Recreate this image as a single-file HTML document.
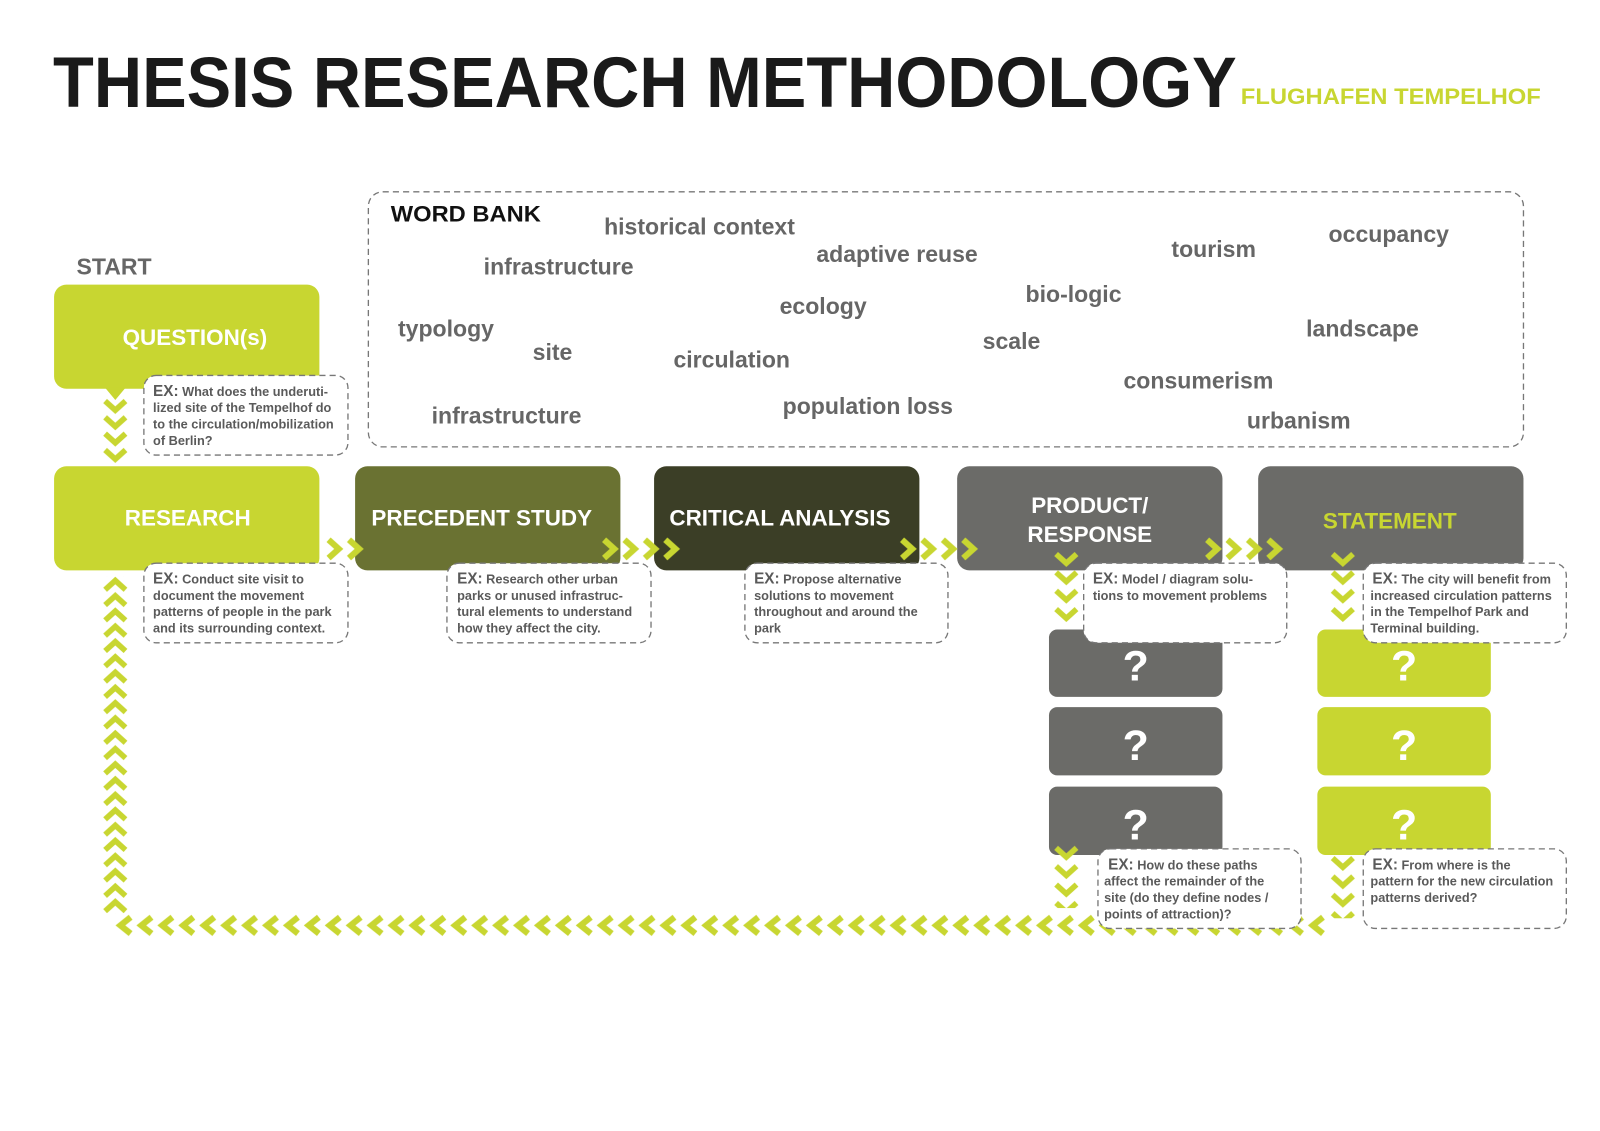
<!DOCTYPE html>
<html><head><meta charset="utf-8"><style>
html,body{margin:0;padding:0;background:#fff;}
svg{display:block;}
text{font-family:"Liberation Sans",Arial,sans-serif;font-weight:bold;}
.w{fill:#666;font-size:22.6px;}
.ex{fill:#5a5a5a;font-size:12.5px;}
.exb{font-size:15px;}
.dash{fill:#fff;stroke:#777;stroke-width:1.3;stroke-dasharray:6 4;}
.q{fill:#fff;font-size:42px;text-anchor:middle;}
.bt{fill:#fff;font-size:22px;}
</style></head><body>
<svg width="1600" height="1131" viewBox="0 0 1568 1108.5" preserveAspectRatio="none" xmlns="http://www.w3.org/2000/svg">
<defs>
<pattern id="cr1" patternUnits="userSpaceOnUse" x="318" y="527" width="20" height="22"><path d="M4,2 L14,11 L4,20" fill="none" stroke="#c8d631" stroke-width="6"/></pattern>
<pattern id="cr2" patternUnits="userSpaceOnUse" x="588" y="527" width="20" height="22"><path d="M4,2 L14,11 L4,20" fill="none" stroke="#c8d631" stroke-width="6"/></pattern>
<pattern id="cr3" patternUnits="userSpaceOnUse" x="880" y="527" width="20" height="22"><path d="M4,2 L14,11 L4,20" fill="none" stroke="#c8d631" stroke-width="6"/></pattern>
<pattern id="cr4" patternUnits="userSpaceOnUse" x="1179" y="527" width="20" height="22"><path d="M4,2 L14,11 L4,20" fill="none" stroke="#c8d631" stroke-width="6"/></pattern>
<pattern id="cl" patternUnits="userSpaceOnUse" x="112" y="896" width="20.5" height="22"><path d="M16,3 L6,11 L16,19" fill="none" stroke="#c8d631" stroke-width="6"/></pattern>
<pattern id="cu" patternUnits="userSpaceOnUse" x="101" y="565" width="24" height="15"><path d="M2,13 L12,4 L22,13" fill="none" stroke="#c8d631" stroke-width="5.5"/></pattern>
<pattern id="cd1" patternUnits="userSpaceOnUse" x="101" y="390" width="24" height="16"><path d="M2,3 L12,12 L22,3" fill="none" stroke="#c8d631" stroke-width="5.5"/></pattern>
<pattern id="cd2" patternUnits="userSpaceOnUse" x="1033" y="540" width="24" height="18"><path d="M2,3 L12,12 L22,3" fill="none" stroke="#c8d631" stroke-width="5.5"/></pattern>
<pattern id="cd3" patternUnits="userSpaceOnUse" x="1304" y="540" width="24" height="18"><path d="M2,3 L12,12 L22,3" fill="none" stroke="#c8d631" stroke-width="5.5"/></pattern>
<pattern id="cd4" patternUnits="userSpaceOnUse" x="1033" y="828" width="24" height="18"><path d="M2,3 L12,12 L22,3" fill="none" stroke="#c8d631" stroke-width="5.5"/></pattern>
<pattern id="cd5" patternUnits="userSpaceOnUse" x="1304" y="838" width="24" height="18"><path d="M2,3 L12,12 L22,3" fill="none" stroke="#c8d631" stroke-width="5.5"/></pattern>
</defs>

<text x="52" y="105" font-size="70" fill="#1a1a1a" textLength="1160" lengthAdjust="spacingAndGlyphs">THESIS RESEARCH METHODOLOGY</text>
<text x="1216" y="102" font-size="22" fill="#c8d631" textLength="294" lengthAdjust="spacingAndGlyphs">FLUGHAFEN TEMPELHOF</text>

<rect x="361" y="188" width="1132" height="250" rx="14" class="dash" fill="none"/>
<text x="383" y="217" font-size="22" fill="#111" textLength="147" lengthAdjust="spacingAndGlyphs">WORD BANK</text>
<text class="w" x="592" y="230">historical context</text>
<text class="w" x="474" y="269">infrastructure</text>
<text class="w" x="800" y="257">adaptive reuse</text>
<text class="w" x="1148" y="252">tourism</text>
<text class="w" x="1302" y="237">occupancy</text>
<text class="w" x="764" y="308">ecology</text>
<text class="w" x="1005" y="296">bio-logic</text>
<text class="w" x="390" y="330">typology</text>
<text class="w" x="522" y="353">site</text>
<text class="w" x="660" y="360">circulation</text>
<text class="w" x="963" y="342">scale</text>
<text class="w" x="1280" y="330">landscape</text>
<text class="w" x="1101" y="381">consumerism</text>
<text class="w" x="767" y="406">population loss</text>
<text class="w" x="423" y="415">infrastructure</text>
<text class="w" x="1222" y="420">urbanism</text>

<text class="w" x="75" y="269">START</text>

<rect x="53" y="279" width="260" height="102" rx="12" fill="#c8d631"/>
<path d="M103,380 L113,392 L123,380 Z" fill="#c8d631"/>
<text class="bt" x="191" y="338" text-anchor="middle">QUESTION(s)</text>

<rect x="53" y="457" width="260" height="102" rx="12" fill="#c8d631"/>
<text class="bt" x="184" y="515" text-anchor="middle">RESEARCH</text>
<rect x="348" y="457" width="260" height="102" rx="12" fill="#6a7232"/>
<text class="bt" x="364" y="515">PRECEDENT STUDY</text>
<rect x="641" y="457" width="260" height="102" rx="12" fill="#3b3e26"/>
<text class="bt" x="656" y="515">CRITICAL ANALYSIS</text>
<rect x="938" y="457" width="260" height="102" rx="12" fill="#6b6b68"/>
<text class="bt" x="1068" y="503" text-anchor="middle">PRODUCT/</text>
<text class="bt" x="1068" y="531" text-anchor="middle">RESPONSE</text>
<rect x="1233" y="457" width="260" height="102" rx="12" fill="#6b6b68"/>
<text class="bt" x="1362" y="518" text-anchor="middle" style="fill:#c8d631">STATEMENT</text>

<rect x="1028" y="617" width="170" height="66" rx="8" fill="#6b6b68"/>
<rect x="1028" y="693" width="170" height="67" rx="8" fill="#6b6b68"/>
<rect x="1028" y="771" width="170" height="67" rx="8" fill="#6b6b68"/>
<rect x="1291" y="617" width="170" height="66" rx="8" fill="#c8d631"/>
<rect x="1291" y="693" width="170" height="67" rx="8" fill="#c8d631"/>
<rect x="1291" y="771" width="170" height="67" rx="8" fill="#c8d631"/>
<text class="q" x="1113" y="667">?</text>
<text class="q" x="1113" y="745">?</text>
<text class="q" x="1113" y="823">?</text>
<text class="q" x="1376" y="667">?</text>
<text class="q" x="1376" y="745">?</text>
<text class="q" x="1376" y="823">?</text>

<rect x="101" y="390" width="24" height="64" fill="url(#cd1)"/>
<rect x="318" y="527" width="40" height="22" fill="url(#cr1)"/>
<rect x="588" y="527" width="80" height="22" fill="url(#cr2)"/>
<rect x="880" y="527" width="80" height="22" fill="url(#cr3)"/>
<rect x="1179" y="527" width="80" height="22" fill="url(#cr4)"/>
<rect x="1033" y="540" width="24" height="72" fill="url(#cd2)"/>
<rect x="1033" y="828" width="24" height="62" fill="url(#cd4)"/>
<rect x="1304" y="540" width="24" height="72" fill="url(#cd3)"/>
<rect x="1304" y="838" width="24" height="62" fill="url(#cd5)"/>
<rect x="101" y="565" width="24" height="330" fill="url(#cu)"/>
<rect x="112" y="896" width="1189" height="22" fill="url(#cl)"/>

<rect x="141" y="368" width="200" height="78" rx="12" class="dash"/>
<text class="ex" x="150" y="388"><tspan class="exb">EX:</tspan> What does the underuti-</text>
<text class="ex" x="150" y="404">lized site of the Tempelhof do</text>
<text class="ex" x="150" y="420">to the circulation/mobilization</text>
<text class="ex" x="150" y="436">of Berlin?</text>

<rect x="141" y="552" width="200" height="78" rx="12" class="dash"/>
<text class="ex" x="150" y="572"><tspan class="exb">EX:</tspan> Conduct site visit to</text>
<text class="ex" x="150" y="588">document the movement</text>
<text class="ex" x="150" y="604">patterns of people in the park</text>
<text class="ex" x="150" y="620">and its surrounding context.</text>

<rect x="438" y="552" width="200" height="78" rx="12" class="dash"/>
<text class="ex" x="448" y="572"><tspan class="exb">EX:</tspan> Research other urban</text>
<text class="ex" x="448" y="588">parks or unused infrastruc-</text>
<text class="ex" x="448" y="604">tural elements to understand</text>
<text class="ex" x="448" y="620">how they affect the city.</text>

<rect x="730" y="552" width="199" height="78" rx="12" class="dash"/>
<text class="ex" x="739" y="572"><tspan class="exb">EX:</tspan> Propose alternative</text>
<text class="ex" x="739" y="588">solutions to movement</text>
<text class="ex" x="739" y="604">throughout and around the</text>
<text class="ex" x="739" y="620">park</text>

<rect x="1062" y="552" width="199" height="78" rx="12" class="dash"/>
<text class="ex" x="1071" y="572"><tspan class="exb">EX:</tspan> Model / diagram solu-</text>
<text class="ex" x="1071" y="588">tions to movement problems</text>

<rect x="1336" y="552" width="199" height="78" rx="12" class="dash"/>
<text class="ex" x="1345" y="572"><tspan class="exb">EX:</tspan> The city will benefit from</text>
<text class="ex" x="1343" y="588">increased circulation patterns</text>
<text class="ex" x="1343" y="604">in the Tempelhof Park and</text>
<text class="ex" x="1343" y="620">Terminal building.</text>

<rect x="1076" y="832" width="199" height="78" rx="12" class="dash"/>
<text class="ex" x="1086" y="852"><tspan class="exb">EX:</tspan> How do these paths</text>
<text class="ex" x="1082" y="868">affect the remainder of the</text>
<text class="ex" x="1082" y="884">site (do they define nodes /</text>
<text class="ex" x="1082" y="900">points of attraction)?</text>

<rect x="1336" y="832" width="199" height="78" rx="12" class="dash"/>
<text class="ex" x="1345" y="852"><tspan class="exb">EX:</tspan> From where is the</text>
<text class="ex" x="1343" y="868">pattern for the new circulation</text>
<text class="ex" x="1343" y="884">patterns derived?</text>
</svg>
</body></html>
